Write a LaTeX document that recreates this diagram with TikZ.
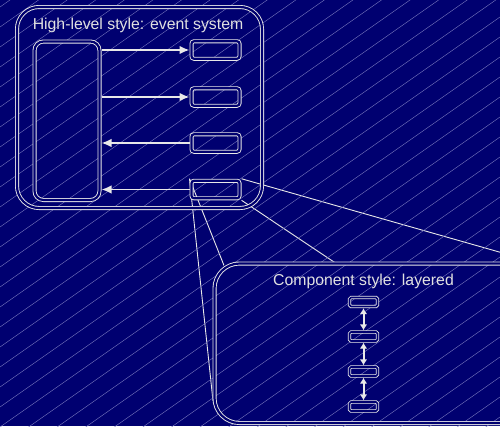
\documentclass[tikz,border=0pt]{standalone}
\usepackage{fontspec}
\setmainfont{Liberation Sans}
\usetikzlibrary{arrows.meta}
\definecolor{navybg}{RGB}{0,0,112}
\definecolor{hatchc}{RGB}{120,120,190}
\definecolor{linec}{RGB}{232,232,232}
\definecolor{textc}{RGB}{225,225,225}
\pgfdeclarelayer{base}
\pgfdeclarelayer{zoom}
\pgfdeclarelayer{cfill}
\pgfdeclarelayer{hatch}
\pgfsetlayers{base,zoom,cfill,hatch,main}
\begin{document}
\begin{tikzpicture}[x=1pt,y=-1pt,
  dbox/.style={draw=linec, line width=0.9pt, double=navybg, double distance=2.2pt,
    rectangle, inner sep=0pt, outer sep=2pt},
  ebox/.style={dbox, minimum width=48pt, minimum height=17.5pt, rounded corners=2.5pt},
  lbox/.style={draw=linec, line width=0.8pt, double=navybg, double distance=1.6pt,
    rectangle, inner sep=0pt, outer sep=1.6pt, minimum width=28pt, minimum height=9pt,
    rounded corners=1.5pt},
  txt/.style={text=textc, font=\fontsize{15.8}{18}\selectfont, inner sep=0pt},
  arr/.style={draw=linec, line width=1.7pt, -{Latex[length=10pt,width=8.5pt]}},
  larr/.style={draw=linec, line width=2pt, {Latex[length=6pt,width=7.5pt]}-{Latex[length=6pt,width=7.5pt]}},
  zline/.style={draw=linec, line width=0.9pt},
  hatchl/.style={draw=hatchc, line width=0.4pt}]
\useasboundingbox (0,0) rectangle (500,426);
\clip (0,0) rectangle (500,426);

% high-level system
\node[dbox, rounded corners=22pt, minimum width=245pt, minimum height=201pt] (sys) at (139.5,107.5) {};
\node[txt, anchor=base] (systitle) at (138,29) {High-level style: event system};
\node[dbox, rounded corners=9pt, minimum width=65pt, minimum height=158.5pt] (hub) at (67,120.75) {};
\node[ebox] (e1) at (215.5,50) {};
\node[ebox] (e2) at (215.5,97) {};
\node[ebox] (e3) at (215.5,143) {};
\node[ebox] (e4) at (215.5,189.5) {};

\draw[arr] (hub.east |- e1.west) -- (e1.west);
\draw[arr] (hub.east |- e2.west) -- (e2.west);
\draw[arr] (e3.west) -- (hub.east |- e3.west);
\draw[arr] (e4.west) -- (hub.east |- e4.west);

% component
\node[dbox, rounded corners=25pt, minimum width=330.5pt, minimum height=159.5pt] (comp) at (379.75,343.25) {};
\node[txt, anchor=base] (comptitle) at (363.5,285) {Component style: layered};
\node[lbox] (l1) at (363.5,302) {};
\node[lbox] (l2) at (363.5,336.5) {};
\node[lbox] (l3) at (363.5,371.5) {};
\node[lbox] (l4) at (363.5,406.5) {};
\draw[larr] (l1.south) -- (l2.north);
\draw[larr] (l2.south) -- (l3.north);
\draw[larr] (l3.south) -- (l4.north);

\coordinate (zA) at (213,401);
\coordinate (zB) at (225,268);
\coordinate (zC) at (575,423);
\coordinate (zD) at (545,265);

\begin{pgfonlayer}{base}
  \fill[navybg] (0,0) rectangle (500,426);
\end{pgfonlayer}
\begin{pgfonlayer}{zoom}
  \clip (0,0) rectangle (500,426);
  \draw[zline] (e4.north west) -- (zA);
  \draw[zline] (e4.north west) -- (zB);
  \draw[zline] (e4.south east) -- (zC);
  \draw[zline] (e4.north east) -- (zD);
\end{pgfonlayer}
\begin{pgfonlayer}{cfill}
  \clip (0,0) rectangle (500,426);
  \fill[navybg, rounded corners=25pt] (comp.north west) rectangle (comp.south east);
\end{pgfonlayer}
\begin{pgfonlayer}{hatch}
  \clip (0,0) rectangle (500,426);
  \foreach \c in {7,27,...,787} {
    \draw[hatchl] (0,\c) -- (520,{\c-520*0.7});
  }
\end{pgfonlayer}
\end{tikzpicture}
\end{document}
